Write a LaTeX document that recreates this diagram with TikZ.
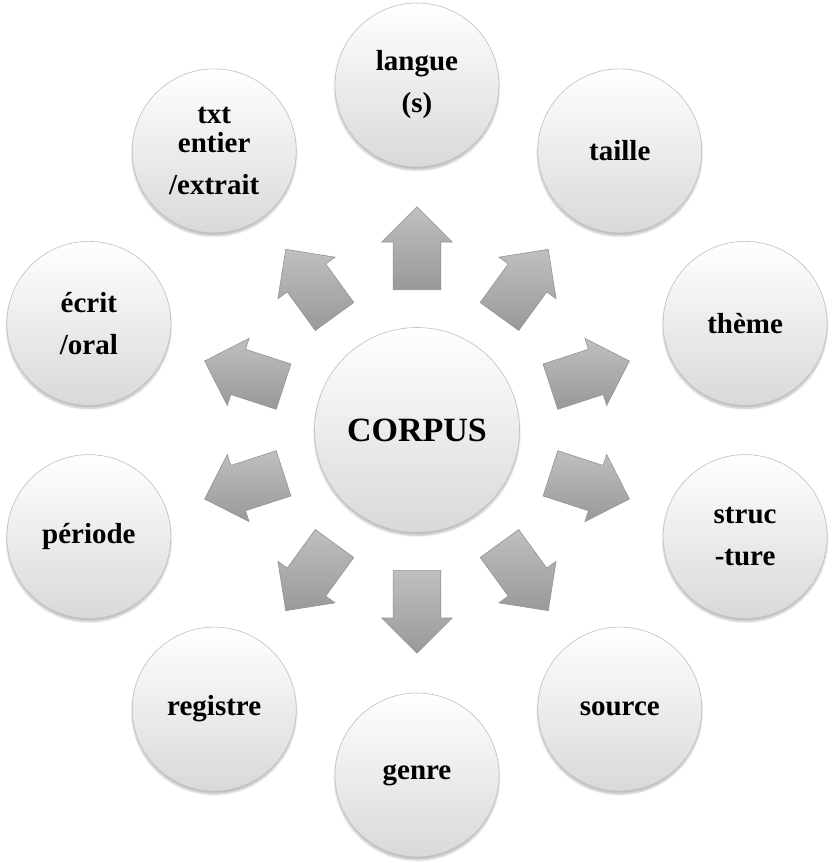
\documentclass[tikz,border=0pt]{standalone}
\usepackage{fontspec}
\setmainfont{Liberation Serif}
\usetikzlibrary{shapes.arrows}
\usetikzlibrary{shadows.blur}

\begin{document}
\begin{tikzpicture}[x=1pt,y=1pt,
	bulle/.style={draw=gray!50, 
				circle, 
				line width=0.6pt,
				top color=white,
				middle color=black!4,
				bottom color=black!15,
				minimum size=164pt,
				inner sep=0pt,
				align=center,
				font=\fontsize{29}{42}\selectfont\bfseries,
				blur shadow={shadow xshift=0pt, shadow yshift=-3pt, shadow opacity=25, shadow blur steps=8}},
	fleche/.style={draw=gray!85, 
				single arrow,
				anchor=tail,
				line width=0.6pt,
				top color=gray!50,
				bottom color=gray!80,
				text height=23.5pt,
				text depth=23.5pt,
				text width=0pt,
				minimum height=83pt,
				single arrow head extend=11.5pt,
				single arrow head indent=0pt,
				inner sep=0pt}]
	\useasboundingbox (-417,-433) rectangle (417,430);
	\node[bulle, minimum size=205pt, font=\fontsize{34}{40}\selectfont\bfseries] (corpus) at (0,0) {CORPUS};
	\node[bulle] (langue) at (90:345pt) {langue\\(s)};
	\node[bulle] (taille) at (54:345pt) {taille};
	\node[bulle] (theme) at (18:345pt) {thème};
	\node[bulle] (structure) at (-18:345pt) {struc\\-ture};
	\node[bulle] (source) at (-54:345pt) {source};
	\node[bulle] (genre) at (-90:345pt) {genre};
	\node[bulle] (registre) at (-126:345pt) {registre};
	\node[bulle] (periode) at (-162:345pt) {période};
	\node[bulle] (ecrit) at (162:345pt) {écrit\\/oral};
	\node[bulle] (txt) at (126:345pt) {txt\\[-13pt]entier\\/extrait};
	% fleches
	\node[fleche, rotate=90] (f-langue) at (90:140pt) {};
	\node[fleche, rotate=54] (f-taille) at (54:140pt) {};
	\node[fleche, rotate=18] (f-theme) at (18:140pt) {};
	\node[fleche, rotate=-18] (f-structure) at (-18:140pt) {};
	\node[fleche, rotate=-54] (f-source) at (-54:140pt) {};
	\node[fleche, rotate=-90] (f-genre) at (-90:140pt) {};
	\node[fleche, rotate=-126] (f-registre) at (-126:140pt) {};
	\node[fleche, rotate=-162] (f-periode) at (-162:140pt) {};
	\node[fleche, rotate=162] (f-ecrit) at (162:140pt) {};
	\node[fleche, rotate=126] (f-txt) at (126:140pt) {};
\end{tikzpicture}
\end{document}
